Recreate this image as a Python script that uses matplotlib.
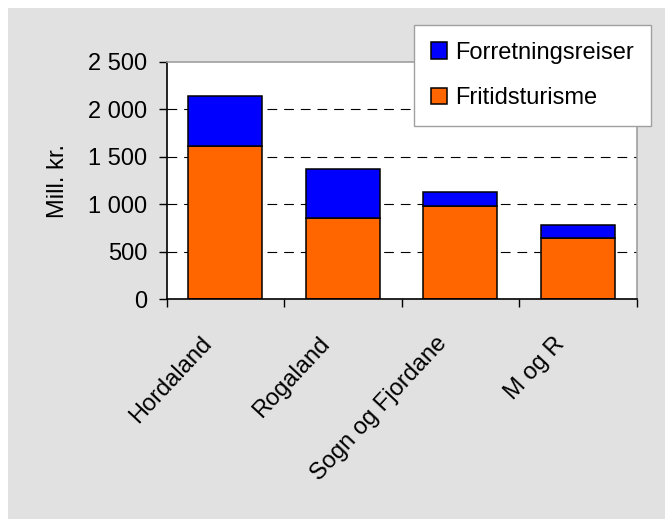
import matplotlib
matplotlib.use('Agg')
import matplotlib.pyplot as plt
import matplotlib.transforms as mtransforms
from matplotlib.patches import Rectangle
from matplotlib.ticker import FuncFormatter

plt.rcParams['font.family'] = ['Liberation Sans', 'DejaVu Sans']
plt.rcParams['lines.scale_dashes'] = False

# data (Mill. kr.)
regions = ['Hordaland', 'Rogaland', 'Sogn og Fjordane', 'M og R']
fritid = [1613, 859, 985, 648]
forretning = [529, 509, 147, 131]
yticks = [0, 500, 1000, 1500, 2000, 2500]

fs = 17

fig = plt.figure(figsize=(6.65, 5.19), dpi=100)
fig.patch.set_facecolor('white')
fig.patches.append(Rectangle((8 / 665, 0), 1 - 8 / 665, (519 - 8) / 519,
                             transform=fig.transFigure, facecolor='#e1e1e1',
                             edgecolor='none', zorder=-1))

ax = fig.add_axes([0.2507, 0.4233, 0.9574 - 0.2507, 0.8811 - 0.4233])
ax.set_facecolor('white')

x = list(range(len(regions)))
b1 = ax.bar(x, fritid, width=0.63, color='#ff6600', edgecolor='black',
            linewidth=1.1, label='Fritidsturisme', zorder=2)
b2 = ax.bar(x, forretning, width=0.63, bottom=fritid, color='#0000ff',
            edgecolor='black', linewidth=1.1, label='Forretningsreiser', zorder=2)

ax.set_xlim(-0.5, len(regions) - 0.5)
ax.set_ylim(0, 2500)
ax.set_yticks(yticks)
ax.yaxis.set_major_formatter(FuncFormatter(lambda v, p: f'{int(v):,}'.replace(',', ' ')))
ax.tick_params(axis='y', direction='out', length=6, width=1, labelsize=fs, pad=8)

# ticks between categories, labels at category centres
ax.set_xticks([i - 0.5 for i in range(len(regions) + 1)])
ax.set_xticklabels([])
ax.tick_params(axis='x', which='major', direction='out', length=6, width=1)
ax.set_xticks(x, minor=True)
ax.set_xticklabels(regions, minor=True, rotation=47, ha='right', va='top', fontsize=fs)
ax.tick_params(axis='x', which='minor', length=0, pad=24)
offset = mtransforms.ScaledTranslation(-9 / 100, 0, fig.dpi_scale_trans)
for lbl in ax.get_xticklabels(minor=True):
    lbl.set_transform(lbl.get_transform() + offset)

ax.set_axisbelow(True)
ax.yaxis.grid(True, color='black', linewidth=0.8, linestyle=(0, (7, 5)))
ax.yaxis.get_gridlines()[-1].set_visible(False)
ax.yaxis.get_gridlines()[0].set_visible(False)

for s in ['left', 'bottom']:
    ax.spines[s].set_color('black')
    ax.spines[s].set_linewidth(1.2)
for s in ['top', 'right']:
    ax.spines[s].set_color('#a0a0a0')
    ax.spines[s].set_linewidth(1.2)

ax.set_ylabel('Mill. kr.', fontsize=fs)
ax.yaxis.set_label_coords(-0.208, 0.5)

leg = fig.legend(handles=[b2, b1], loc='upper left',
                 bbox_to_anchor=(414 / 665, (519 - 25) / 519),
                 bbox_transform=fig.transFigure, borderaxespad=0,
                 fontsize=fs, fancybox=False, framealpha=1,
                 edgecolor='#a0a0a0', handlelength=0.7, handleheight=0.7,
                 handletextpad=0.35, labelspacing=1.0, borderpad=0.7)
leg.get_frame().set_linewidth(1.0)

fig.savefig('out.png', dpi=100, facecolor=fig.get_facecolor())
